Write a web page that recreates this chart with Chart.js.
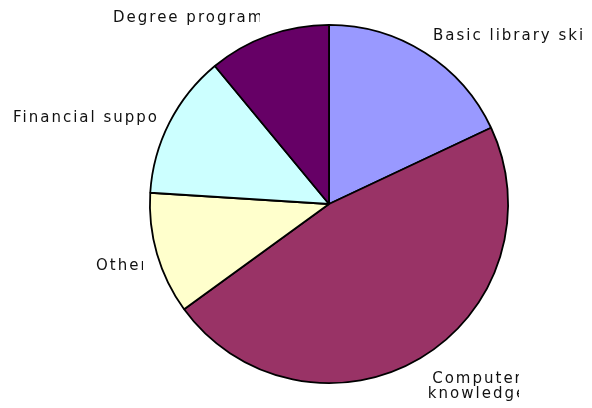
<!DOCTYPE html>
<html>
<head>
<meta charset="utf-8">
<script src="https://cdn.jsdelivr.net/npm/chart.js@4"></script>
<style>
  html, body { margin: 0; padding: 0; background: #fff; }
  #wrap { width: 592px; height: 408px; }
</style>
</head>
<body>
<div id="wrap"><canvas id="pieChart" width="592" height="408"></canvas></div>
<script>
const categories = ["Basic library skills", "Computer knowledge", "Other", "Financial support", "Degree program"];
const shares = [18, 47, 11, 13, 11];
const sliceColors = ["#9999FF", "#993366", "#FFFFCC", "#CCFFFF", "#660066"];

// where each label sits (x, baseline y) and where its label box cuts it off on the right
const labelBoxes = [
    { x: 433, y: 40, clip: 585, lines: ["Basic library skills"] },
    { x: 477.5, y: 383, clip: 519, lines: ["Computer", "knowledge"], center: true },
    { x: 96, y: 270, clip: 143, lines: ["Other"] },
    { x: 13, y: 122, clip: 160, lines: ["Financial support"] },
    { x: 113, y: 22, clip: 260, lines: ["Degree program"] }
];

const sliceLabels = {
    id: "sliceLabels",
    afterDraw(chart) {
        const ctx = chart.ctx;
        ctx.save();
        ctx.font = "15px 'DejaVu Sans'";
        ctx.fillStyle = "#111";
        ctx.letterSpacing = "2px";
        ctx.textBaseline = "alphabetic";
        chart.data.labels.forEach((name, i) => {
            const box = labelBoxes[i];
            ctx.save();
            ctx.beginPath();
            ctx.rect(0, 0, box.clip, chart.height);
            ctx.clip();
            ctx.textAlign = box.center ? "center" : "left";
            box.lines.forEach((line, j) => {
                ctx.fillText(line, box.x, box.y + j * 15);
            });
            ctx.restore();
        });
        ctx.restore();
    }
};

const ctx = document.getElementById("pieChart").getContext("2d");
new Chart(ctx, {
    type: "pie",
    data: {
        labels: categories,
        datasets: [{
            data: shares,
            backgroundColor: sliceColors,
            borderColor: "#000",
            borderWidth: 1.8,
            hoverOffset: 0
        }]
    },
    options: {
        responsive: false,
        animation: false,
        layout: { padding: { left: 149, right: 83, top: 24, bottom: 24 } },
        plugins: {
            legend: { display: false },
            tooltip: { enabled: false }
        }
    },
    plugins: [sliceLabels]
});
</script>
</body>
</html>
